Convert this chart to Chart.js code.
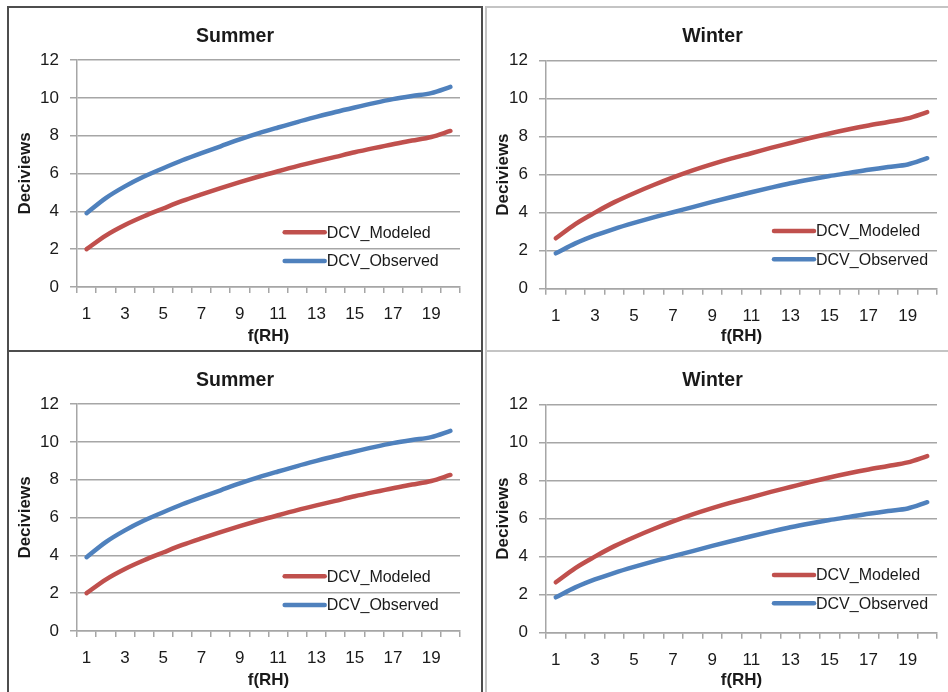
<!DOCTYPE html>
<html>
<head>
<meta charset="utf-8">
<script src="https://cdn.jsdelivr.net/npm/chart.js@4"></script>
<style>
  body { margin: 0; background: #fff; width: 948px; height: 692px; overflow: hidden; position: relative; }
  .cell { position: absolute; }
  .frame { position: absolute; box-sizing: border-box; }
</style>
</head>
<body>
<div class="frame" style="left:485px;top:6px;width:470px;height:346px;border:2px solid #c4c4c4"></div>
<div class="frame" style="left:485px;top:350px;width:470px;height:400px;border:2px solid #c4c4c4"></div>
<div class="frame" style="left:7px;top:6px;width:476px;height:346px;border:2px solid #4d4d4d"></div>
<div class="frame" style="left:7px;top:350px;width:476px;height:400px;border:2px solid #4d4d4d"></div>

<canvas class="cell" id="c1" width="470" height="340" style="left:10px;top:9px"></canvas>
<canvas class="cell" id="c2" width="470" height="340" style="left:488px;top:9px"></canvas>
<canvas class="cell" id="c3" width="470" height="340" style="left:10px;top:353px"></canvas>
<canvas class="cell" id="c4" width="470" height="340" style="left:488px;top:353px"></canvas>

<script>
const fRH = ['1', '2', '3', '4', '5', '6', '7', '8', '9', '10',
             '11', '12', '13', '14', '15', '16', '17', '18', '19', '20'];

const summerModeled  = [2.00, 2.72, 3.28, 3.74, 4.15, 4.55, 4.90, 5.23, 5.54, 5.84,
                        6.12, 6.39, 6.64, 6.88, 7.12, 7.34, 7.55, 7.74, 7.93, 8.25];
const summerObserved = [3.90, 4.70, 5.32, 5.84, 6.28, 6.70, 7.08, 7.44, 7.80, 8.13,
                        8.43, 8.72, 8.99, 9.25, 9.49, 9.72, 9.93, 10.10, 10.25, 10.58];
const winterModeled  = [2.65, 3.40, 4.00, 4.55, 5.02, 5.45, 5.85, 6.22, 6.55, 6.85,
                        7.12, 7.40, 7.66, 7.92, 8.16, 8.38, 8.58, 8.76, 8.95, 9.28];
const winterObserved = [1.86, 2.38, 2.80, 3.15, 3.46, 3.75, 4.02, 4.29, 4.56, 4.82,
                        5.07, 5.31, 5.54, 5.74, 5.92, 6.08, 6.25, 6.40, 6.53, 6.86];

const RED = '#c0504d';
const BLUE = '#4f81bd';
const GRID = '#a6a6a6';
const TEXT = '#1a1a1a';

Chart.defaults.font.family = '"Liberation Sans", Arial, sans-serif';
Chart.defaults.color = TEXT;

// legend drawn inside the plot, lower right (Excel style)
const insetLegend = {
  id: 'insetLegend',
  afterDraw(chart, args, opts) {
    const { ctx, chartArea } = chart;
    const rows = [opts.y1, opts.y2];
    ctx.save();
    ctx.font = '16px "Liberation Sans", Arial, sans-serif';
    ctx.textBaseline = 'middle';
    chart.data.datasets.forEach((ds, i) => {
      const x = chartArea.left + opts.x;
      const y = chartArea.bottom - rows[i];
      ctx.strokeStyle = ds.borderColor;
      ctx.lineWidth = 4.5;
      ctx.lineCap = 'round';
      ctx.beginPath();
      ctx.moveTo(x + 2, y);
      ctx.lineTo(x + 42, y);
      ctx.stroke();
      ctx.fillStyle = TEXT;
      ctx.fillText(ds.label, x + 44, y + 1);
    });
    ctx.restore();
  }
};

function makeChart(id, title, modeled, observed, g) {
  return new Chart(document.getElementById(id), {
    type: 'line',
    data: {
      labels: fRH,
      datasets: [
        { label: 'DCV_Modeled', data: modeled, borderColor: RED, backgroundColor: RED },
        { label: 'DCV_Observed', data: observed, borderColor: BLUE, backgroundColor: BLUE }
      ]
    },
    options: {
      responsive: false,
      animation: false,
      layout: { padding: { left: 0, right: g.padRight, top: 0, bottom: 0 } },
      elements: {
        point: { radius: 0 },
        line: { borderWidth: 4.5, cubicInterpolationMode: 'monotone', borderCapStyle: 'round' }
      },
      scales: {
        x: {
          offset: true,
          grid: { offset: true, drawOnChartArea: false, color: GRID, lineWidth: 1.5, tickLength: 6 },
          border: { color: GRID, width: 1.5 },
          ticks: {
            autoSkip: false, maxRotation: 0, padding: 11,
            font: { size: 17 },
            callback: (v, i) => (i % 2 === 0 ? fRH[i] : '')
          },
          title: { display: true, text: 'f(RH)', font: { size: 17, weight: 'bold' }, padding: { top: 0, bottom: 2 } },
          afterFit: s => { s.height = g.xHeight; }
        },
        y: {
          min: 0, max: 12,
          grid: { color: GRID, lineWidth: 1.5, tickLength: 7 },
          border: { color: GRID, width: 1.5 },
          ticks: { stepSize: 2, padding: 11, font: { size: 17 } },
          title: { display: true, text: 'Deciviews', font: { size: 17, weight: 'bold' }, padding: { top: 5, bottom: 0 } },
          afterFit: s => { s.width = g.yWidth; }
        }
      },
      plugins: {
        legend: { display: false },
        tooltip: { enabled: false },
        title: {
          display: true, text: title, color: TEXT,
          font: { size: 19.5, weight: 'bold' },
          padding: { top: g.titleTop, bottom: g.titleBottom }
        },
        insetLegend: { x: g.legendX, y1: g.legendY1, y2: g.legendY2 }
      }
    },
    plugins: [insetLegend]
  });
}

const summerGeo = { yWidth: 67, padRight: 20, xHeight: 62, titleTop: 16.3, titleBottom: 11.3,
                    legendX: 205.7, legendY1: 54.7, legendY2: 26 };
const winterGeo = { yWidth: 58, padRight: 21, xHeight: 60.3, titleTop: 16, titleBottom: 12,
                    legendX: 226, legendY1: 57.7, legendY2: 29.4 };

makeChart('c1', 'Summer', summerModeled, summerObserved, summerGeo);
makeChart('c2', 'Winter', winterModeled, winterObserved, winterGeo);
makeChart('c3', 'Summer', summerModeled, summerObserved, summerGeo);
makeChart('c4', 'Winter', winterModeled, winterObserved, winterGeo);
</script>
</body>
</html>
